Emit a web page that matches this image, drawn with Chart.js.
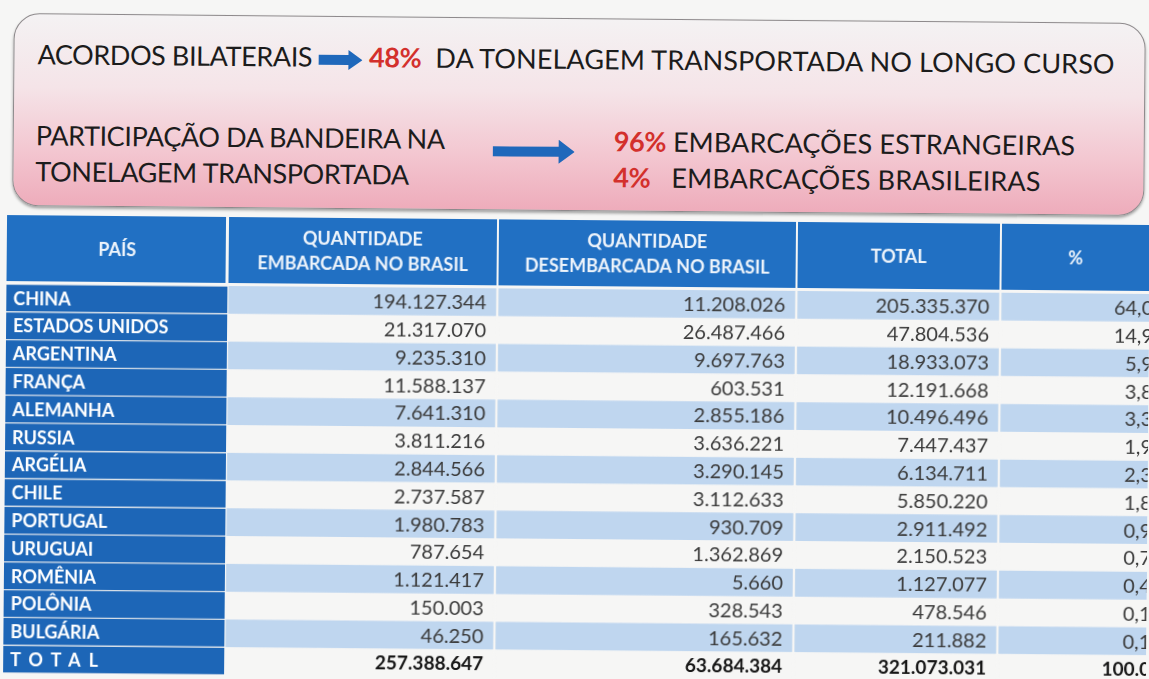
<!DOCTYPE html>
<html lang="pt-BR">
<head>
<meta charset="utf-8">
<title>Tonelagem transportada no longo curso</title>
<script src="https://cdn.jsdelivr.net/npm/chart.js@4.4.1/dist/chart.umd.min.js"></script>
<style>
  html, body { margin: 0; padding: 0; }
  body { width: 1149px; height: 679px; overflow: hidden; background: #f6f6f5; font-family: Lato, 'Open Sans', sans-serif; }
  #page { position: absolute; left: 0; top: 0; width: 1149px; height: 679px; transform: rotate(0.5deg); transform-origin: 574px 340px; }
  #banner {
    position: absolute; left: 11px; top: 18px; width: 1132px; height: 193px; box-sizing: border-box;
    border: 1.5px solid #8e8a8c; border-radius: 26px;
    background: linear-gradient(#f4f2f3 0%, #f5e4e8 38%, #f3c6d0 72%, #eeacbb 100%);
    box-shadow: 0 2px 3px rgba(0, 0, 0, .35);
  }
  .linha { position: absolute; white-space: nowrap; font-size: 27px; letter-spacing: -0.4px; line-height: 32px; height: 32px; color: #1c1c1c; }
  .solto { letter-spacing: 0.1px; }
  .red { color: #d3302c; font-weight: bold; letter-spacing: -0.4px; }
  .seta { display: inline-block; vertical-align: middle; margin: 0 7px 0 6px; }
  #chartBox { position: absolute; left: 0; top: 220px; width: 1149px; height: 460px; }
</style>
</head>
<body>
<div id="page">
  <div id="banner">
    <div class="linha" style="left:23px; top:24px;">ACORDOS BILATERAIS<svg class="seta" width="44" height="20" viewBox="0 0 44 20"><path d="M0 5 H30 V0 L44 10 L30 20 V15 H0 Z" fill="#1f68bb"/></svg><span class="red">48%</span><span class="solto">&nbsp; DA TONELAGEM TRANSPORTADA NO LONGO CURSO</span></div>
    <div class="linha" style="left:22px; top:105px;">PARTICIPAÇÃO DA BANDEIRA NA</div>
    <div class="linha" style="left:22px; top:141px;">TONELAGEM TRANSPORTADA</div>
    <svg style="position:absolute; left:479px; top:121px;" width="82" height="24" viewBox="0 0 82 24"><path d="M0 7 H66 V0 L82 12 L66 24 V17 H0 Z" fill="#1f68bb"/></svg>
    <div class="linha solto" style="left:600px; top:106px;"><span class="red">96%</span> EMBARCAÇÕES ESTRANGEIRAS</div>
    <div class="linha solto" style="left:600px; top:142px;"><span class="red" style="display:inline-block; width:58px;">4%</span>EMBARCAÇÕES BRASILEIRAS</div>
  </div>
  <div id="chartBox"><canvas id="tabela" width="1149" height="460"></canvas></div>
</div>
<script>
// dados da tabela (toneladas)
const paises = ['CHINA', 'ESTADOS UNIDOS', 'ARGENTINA', 'FRANÇA', 'ALEMANHA', 'RUSSIA', 'ARGÉLIA', 'CHILE',
  'PORTUGAL', 'URUGUAI', 'ROMÊNIA', 'POLÔNIA', 'BULGÁRIA', 'TOTAL'];
const embarcada = [194127344, 21317070, 9235310, 11588137, 7641310, 3811216, 2844566, 2737587,
  1980783, 787654, 1121417, 150003, 46250, 257388647];
const desembarcada = [11208026, 26487466, 9697763, 603531, 2855186, 3636221, 3290145, 3112633,
  930709, 1362869, 5660, 328543, 165632, 63684384];
const total = [205335370, 47804536, 18933073, 12191668, 10496496, 7447437, 6134711, 5850220,
  2911492, 2150523, 1127077, 478546, 211882, 321073031];
const percentual = [64.0, 14.9, 5.9, 3.8, 3.3, 1.9, 2.3, 1.8, 0.9, 0.7, 0.4, 0.1, 0.1, 100.0];
const cabecalhos = [['PAÍS'], ['QUANTIDADE', 'EMBARCADA NO BRASIL'], ['QUANTIDADE', 'DESEMBARCADA NO BRASIL'], ['TOTAL'], ['%']];

// bordas das colunas em pixels do eixo x
const colunas = [6, 227, 497, 796, 1000, 1164];
const ultima = paises.length - 1;

const fmt = n => String(n).replace(/\B(?=(\d{3})+(?!\d))/g, '.');
const fmtPct = (n, i) => i === ultima ? n.toFixed(1) : n.toFixed(1).replace('.', ',');
const linhaAzul = i => i % 2 === 0 && i < ultima;

const colunasValores = [
  { valores: embarcada, texto: fmt },
  { valores: desembarcada, texto: fmt },
  { valores: total, texto: fmt },
  { valores: percentual, texto: fmtPct },
];

const tabelaPlugin = {
  id: 'tabela',
  beforeDatasetsDraw(chart) {
    const { ctx, chartArea, scales: { x } } = chart;
    const base = chartArea.top - 3;
    ctx.save();
    cabecalhos.forEach((linhas, c) => {
      const x0 = x.getPixelForValue(colunas[c]);
      const x1 = x.getPixelForValue(colunas[c + 1]);
      ctx.fillStyle = '#2170c3';
      ctx.fillRect(x0 + (c ? 1 : 0), 0, x1 - x0 - 2, base);
      ctx.fillStyle = '#eef4fb';
      ctx.font = 'bold 18px Lato';
      ctx.textAlign = 'center';
      ctx.textBaseline = 'middle';
      const cx = c === 4 ? 1075 : (x0 + x1) / 2;
      linhas.forEach((t, k) => {
        const dy = linhas.length === 1 ? 1 : (k === 0 ? -11.5 : 13.5);
        ctx.fillText(t, cx, base / 2 + dy);
      });
    });
    ctx.restore();
  },
  afterDatasetsDraw(chart) {
    const { ctx } = chart;
    ctx.save();
    ctx.textBaseline = 'middle';
    // nomes dos países na primeira coluna
    ctx.textAlign = 'left';
    ctx.font = 'bold 18px Lato';
    ctx.fillStyle = '#ffffff';
    chart.getDatasetMeta(0).data.forEach((bar, i) => {
      ctx.letterSpacing = i === ultima ? '8px' : '0px';
      ctx.fillText(chart.data.labels[i], bar.base + 7, bar.y + 1);
    });
    ctx.letterSpacing = '0px';
    ctx.textAlign = 'right';
    colunasValores.forEach((col, c) => {
      const meta = chart.getDatasetMeta(c + 1);
      meta.data.forEach((bar, i) => {
        const negrito = i === ultima;
        ctx.font = (negrito ? 'bold 19px' : '20px') + ' Lato';
        ctx.fillStyle = negrito ? '#161616' : '#3a3a3a';
        ctx.fillText(col.texto(col.valores[i], i), bar.x - 11, bar.y + 1);
      });
    });
    ctx.restore();
  }
};

const datasets = [{
  label: 'PAÍS',
  data: paises.map(() => [colunas[0], colunas[1]]),
  backgroundColor: '#1d66b7',
  borderColor: '#d6dfe8',
  borderWidth: { top: 1, bottom: 1, left: 0, right: 0 },
  borderSkipped: false,
}].concat(colunasValores.map((col, c) => ({
  label: cabecalhos[c + 1].join(' '),
  data: col.valores.map(() => [colunas[c + 1], colunas[c + 2]]),
  backgroundColor: ctx => linhaAzul(ctx.dataIndex) ? '#bfd6ef' : 'rgba(0,0,0,0)',
  borderColor: '#f6f6f5',
  borderWidth: { top: 0, bottom: 0, left: 1.5, right: 1.5 },
  borderSkipped: false,
})));

new Chart(document.getElementById('tabela'), {
  type: 'bar',
  data: { labels: paises, datasets },
  options: {
    indexAxis: 'y',
    responsive: false,
    animation: false,
    grouped: false,
    barPercentage: 1,
    categoryPercentage: 1,
    layout: { padding: { top: 69, bottom: 2, left: 0, right: 0 } },
    scales: {
      x: { type: 'linear', min: 0, max: 1149, display: false },
      y: { type: 'category', display: false },
    },
    plugins: { legend: { display: false }, tooltip: { enabled: false } },
  },
  plugins: [tabelaPlugin],
});
</script>
</body>
</html>
